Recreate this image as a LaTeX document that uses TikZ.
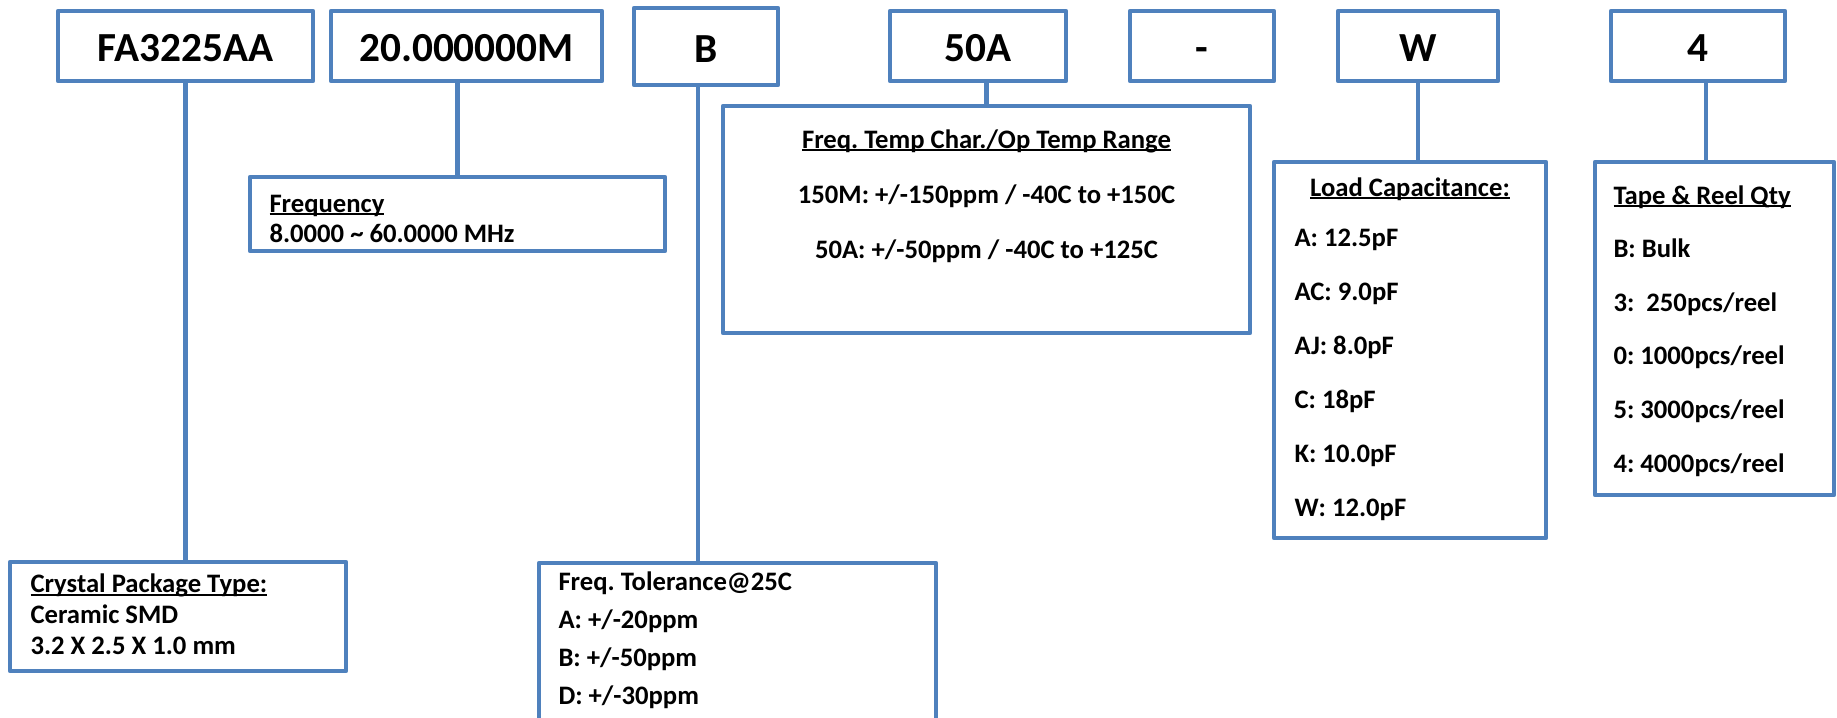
\documentclass[tikz,border=0pt]{standalone}
\usepackage{fontspec}
\setmainfont{Carlito}
\usetikzlibrary{fit}
\frenchspacing
\definecolor{boxblue}{RGB}{79,129,189}
\newcommand\ulhead[1]{\setbox0\hbox{#1}\rlap{\rule[-2pt]{\wd0}{1.1pt}}\box0}
\tikzset{every picture/.style={line width=0.75pt}}

\begin{document}
\begin{tikzpicture}[x=0.75pt,y=0.75pt,yscale=-1,xscale=1,
	box/.style={draw=boxblue, line width=3.5pt, line join=round, inner sep=0pt},
	code/.style={box, minimum height=52.5pt, font=\bfseries\fontsize{31}{37}\selectfont, text height=24pt, text depth=0pt},
	link/.style={draw=boxblue, line width=3.5pt},
	info/.style={inner sep=0pt, font=\bfseries\fontsize{20}{#1}\selectfont}]
	\useasboundingbox (0,0) rectangle (1837,717);
	
	%part number fields
	\node [code, minimum width=191.25pt] (fa) at (185.5,46) {FA3225AA};
	\node [code, minimum width=203.25pt] (m20) at (466.5,46) {20.000000M};
	\node [code, minimum width=108pt, minimum height=57.75pt] (b) at (706,46.5) {B};
	\node [code, minimum width=132pt] (a50) at (978,46) {50A};
	\node [code, minimum width=108pt] (dash) at (1202,46) {-};
	\node [code, minimum width=120pt] (w) at (1418,46) {W};
	\node [code, minimum width=130.5pt] (q4) at (1698,46) {4};
	
	%description boxes
	\node [box, fit={(10,562) (346,671)}] (pkg) {};
	\node [box, fit={(250,177) (665,251)}] (frq) {};
	\node [box, fit={(539,563) (936,745)}] (tol) {};
	\node [box, fit={(723,106) (1250,333)}] (temp) {};
	\node [box, fit={(1274,162) (1546,538)}] (load) {};
	\node [box, fit={(1595,162) (1834,495)}] (tape) {};
	
	%connectors
	\draw [link] (fa.south) -- (fa.south |- pkg.north);
	\draw [link] (m20.south -| frq.north) -- (frq.north);
	\draw [link] ([xshift=-6pt]b.south) -- ([xshift=-6pt]b.south |- tol.north);
	\draw [link] (a50.south -| temp.north) -- (temp.north);
	\draw [link] (w.south) -- (w.south |- load.north);
	\draw [link] ([xshift=6pt]q4.south) -- ([xshift=6pt]q4.south |- tape.north);
	
	%texts (anchored at the baseline of the last line)
	\node [info=22.9pt, anchor=base west, align=left] (pkgtext) at (30,654) {\ulhead{Crystal Package Type:}\\Ceramic SMD\\3.2 X 2.5 X 1.0 mm};
	
	\node [info=22.5pt, anchor=base west, align=left] (frqtext) at (269,242) {\ulhead{Frequency}\\8.0000 \textasciitilde{} 60.0000 MHz};
	
	\node [info=28.5pt, anchor=base west, align=left] (toltext) at (558,704) {Freq. Tolerance@25C\\A: +/-20ppm\\B: +/-50ppm\\D: +/-30ppm};
	
	\node [info=41.2pt, anchor=base, align=center] (temptext) at (986.5,258) {\ulhead{Freq. Temp Char./Op Temp Range}\\150M: +/-150ppm / -40C to +150C\\50A: +/-50ppm / -40C to +125C};
	
	\node [info=40.4pt, anchor=base] (loadhead) at (1410,196) {\ulhead{Load Capacitance:}};
	
	\node [info=40.4pt, anchor=base west, align=left] (loadtext) at (1294,516) {A: 12.5pF\\AC: 9.0pF\\AJ: 8.0pF\\C: 18pF\\K: 10.0pF\\W: 12.0pF};
	
	\node [info=40.2pt, anchor=base west, align=left] (tapetext) at (1613,472) {\ulhead{Tape \& Reel Qty}\\B: Bulk\\3:\ \ 250pcs/reel\\0: 1000pcs/reel\\5: 3000pcs/reel\\4: 4000pcs/reel};
	
\end{tikzpicture}
\end{document}
